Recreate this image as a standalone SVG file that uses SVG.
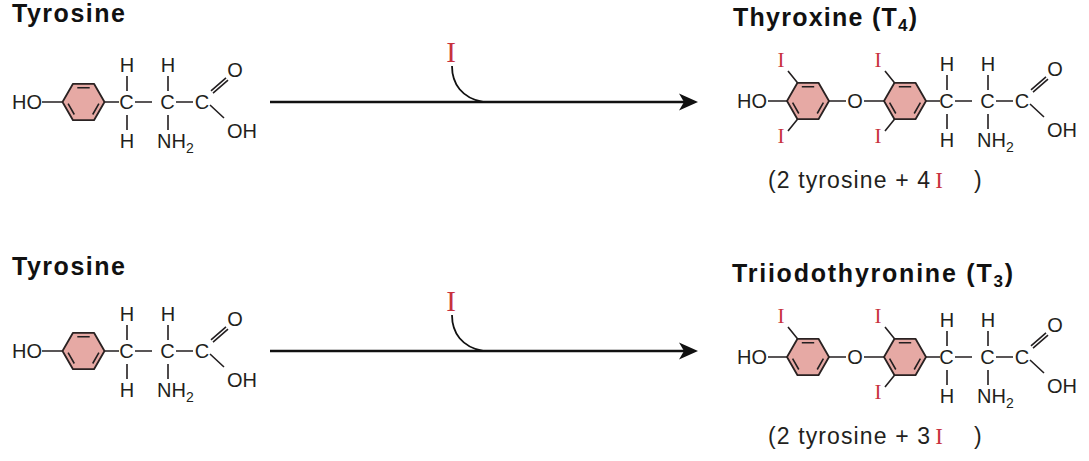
<svg xmlns="http://www.w3.org/2000/svg" width="1089" height="461" viewBox="0 0 1089 461">
<defs>
<style>
.t{font-family:"Liberation Sans",Arial,sans-serif;font-size:20px;fill:#231f20}
.m{text-anchor:middle}
.title{font-family:"Liberation Sans",Arial,sans-serif;font-weight:bold;font-size:25px;fill:#111}
.iod{font-family:"Liberation Serif","Times New Roman",serif;fill:#c8323e;text-anchor:middle}
.b{stroke:#231f20;stroke-width:1.6;fill:none}
.ring{fill:#e6a9a4;stroke:#2a2222;stroke-width:1.8;stroke-linejoin:round}
.arrow{stroke:#111;stroke-width:2.6;fill:none}
.curve{stroke:#111;stroke-width:1.8;fill:none}
.cap{font-family:"Liberation Sans",Arial,sans-serif;font-size:23px;fill:#231f20}
</style>
<marker id="ah" markerUnits="userSpaceOnUse" markerWidth="20" markerHeight="18" refX="11" refY="9" orient="auto" viewBox="0 0 20 18">
<path d="M0,0.5 L19,9 L0,17.5 L5,9 Z" fill="#111"/>
</marker>
<g id="benzene">
<polygon class="ring" points="21,0 10.5,18.19 -10.5,18.19 -21,0 -10.5,-18.19 10.5,-18.19"/>
<path class="b" d="M-6.2,-14.2H6.2M15.4,1.7L9.2,12.5M-9.2,12.5L-15.4,1.7"/>
</g>
<g id="chain">
<text class="t m" x="126.5" y="109">C</text>
<text class="t m" x="127" y="72">H</text>
<text class="t m" x="127" y="148">H</text>
<path class="b" d="M127,76V91M127,115V130M135,102H152M176,102H193"/>
<text class="t m" x="167.5" y="109">C</text>
<text class="t m" x="168" y="72">H</text>
<path class="b" d="M168,76V91M168,115V130"/>
<text class="t" x="157" y="148">NH<tspan font-size="14" dy="5">2</tspan></text>
<text class="t m" x="202" y="109">C</text>
<path class="b" d="M211,90.8L226,77.8M213,93.2L228,80.2M210,105L224,118"/>
<text class="t m" x="235" y="77">O</text>
<text class="t" x="227" y="138">OH</text>
</g>
</defs>

<g id="tyrosine-1">
<text class="title" x="12" y="22" textLength="113">Tyrosine</text>
<text class="t" x="12" y="109">HO</text>
<path class="b" d="M42,102H62.5M104.5,102H119"/>
<use href="#benzene" x="83.5" y="102"/>
<use href="#chain"/>
</g>

<g id="tyrosine-2" transform="translate(0,249)">
<text class="title" x="12" y="26" textLength="113">Tyrosine</text>
<text class="t" x="12" y="109">HO</text>
<path class="b" d="M42,102H62.5M104.5,102H119"/>
<use href="#benzene" x="83.5" y="102"/>
<use href="#chain"/>
</g>

<g id="iodine-1">
<text class="iod" x="451" y="62" font-size="29">I</text>
</g>
<g id="iodine-2" transform="translate(0,249)">
<text class="iod" x="451" y="62" font-size="29">I</text>
</g>

<g id="thyroxine">
<text class="title" x="733" y="26" textLength="184">Thyroxine (T<tspan font-size="17" dy="5">4</tspan><tspan dy="-5">)</tspan></text>
<text class="t" x="737" y="108">HO</text>
<path class="b" d="M768,101H787M829,101H846M864,101H884M926,101H940"/>
<use href="#benzene" x="808" y="101"/>
<use href="#benzene" x="905" y="101"/>
<text class="t m" x="855" y="108">O</text>
<path class="b" d="M797.5,82.8L788,71M797.5,119.2L788,131M894.5,82.8L885,71M894.5,119.2L885,131"/>
<text class="iod" x="781" y="67" font-size="21">I</text>
<text class="iod" x="781" y="143" font-size="21">I</text>
<text class="iod" x="878" y="67" font-size="21">I</text>
<text class="iod" x="878" y="143" font-size="21">I</text>
<use href="#chain" transform="translate(820,-1)"/>
<text class="cap" x="768" y="188" textLength="162">(2 tyrosine + 4</text>
<text class="iod" x="939" y="188" font-size="23">I</text>
<text class="cap" x="974" y="188">)</text>
</g>

<g id="triiodothyronine" transform="translate(0,256)">
<text class="title" x="732" y="26" textLength="281">Triiodothyronine (T<tspan font-size="17" dy="5">3</tspan><tspan dy="-5">)</tspan></text>
<text class="t" x="737" y="108">HO</text>
<path class="b" d="M768,101H787M829,101H846M864,101H884M926,101H940"/>
<use href="#benzene" x="808" y="101"/>
<use href="#benzene" x="905" y="101"/>
<text class="t m" x="855" y="108">O</text>
<path class="b" d="M797.5,82.8L788,71M894.5,82.8L885,71M894.5,119.2L885,131"/>
<text class="iod" x="781" y="67" font-size="21">I</text>
<text class="iod" x="878" y="67" font-size="21">I</text>
<text class="iod" x="878" y="143" font-size="21">I</text>
<use href="#chain" transform="translate(820,-1)"/>
<text class="cap" x="768" y="188" textLength="162">(2 tyrosine + 3</text>
<text class="iod" x="939" y="188" font-size="23">I</text>
<text class="cap" x="974" y="188">)</text>
</g>

<g id="connectors">
<path class="arrow" d="M270,102H690" marker-end="url(#ah)"/>
<path class="curve" d="M452,66C452,84 462,98 483,102"/>
<path class="arrow" d="M270,351H690" marker-end="url(#ah)"/>
<path class="curve" d="M452,315C452,333 462,347 483,351"/>
</g>
</svg>
